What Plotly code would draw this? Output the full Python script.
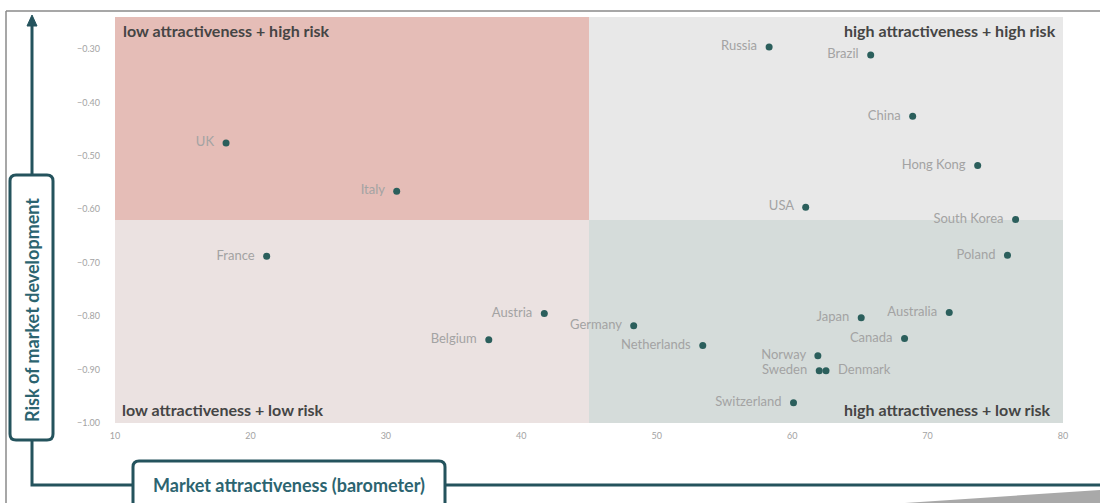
import plotly.graph_objects as go

# ---------------- data ----------------
countries = ["UK", "Italy", "France", "Austria", "Belgium", "Germany", "Netherlands",
             "Russia", "Brazil", "China", "Hong Kong", "USA", "South Korea", "Poland",
             "Japan", "Australia", "Canada", "Norway", "Sweden", "Denmark", "Switzerland"]
attractiveness = [18.2, 30.8, 21.2, 41.7, 37.6, 48.3, 53.4,
                  58.3, 65.8, 68.9, 73.7, 61.0, 76.5, 75.9,
                  65.1, 71.6, 68.3, 61.9, 62.0, 62.5, 60.1]
risk = [-0.476, -0.566, -0.688, -0.795, -0.844, -0.818, -0.855,
        -0.296, -0.311, -0.426, -0.518, -0.596, -0.619, -0.686,
        -0.803, -0.793, -0.842, -0.874, -0.902, -0.902, -0.962]
label_side = ["left"] * 19 + ["right", "left"]  # Denmark labelled to the right

x_ticks = [10, 20, 30, 40, 50, 60, 70, 80]
y_ticks = [-0.30, -0.40, -0.50, -0.60, -0.70, -0.80, -0.90, -1.00]
x_range = [10, 80]
y_range = [-1.0, -0.24]
x_split = 45
y_split = -0.62

quadrant_titles = ["low attractiveness + high risk", "high attractiveness + high risk",
                   "low attractiveness + low risk", "high attractiveness + low risk"]
x_title = "Market attractiveness (barometer)"
y_title = "Risk of market development"

# ---------------- layout geometry ----------------
W, H = 1100, 503
L, R, T, B = 115, 37, 17, 80
PW, PH = W - L - R, H - T - B


def px(x):
    return (x - L) / PW


def py(y):
    return (H - B - y) / PH


TEAL = "#24535d"
TEXT_TEAL = "#2c6470"

fig = go.Figure()

for side in ["left", "right"]:
    idx = [i for i, s in enumerate(label_side) if s == side]
    fig.add_trace(go.Scatter(
        x=[attractiveness[i] for i in idx],
        y=[risk[i] for i in idx],
        mode="markers+text",
        text=[(countries[i] + "  ") if side == "left" else ("  " + countries[i]) for i in idx],
        textposition="middle left" if side == "left" else "middle right",
        textfont=dict(family="Lato, sans-serif", size=13, color="#a3a3a3"),
        marker=dict(size=7, color="#2b5f5c"),
        hoverinfo="text",
        showlegend=False,
        cliponaxis=False,
    ))

shapes = []
# quadrants
quad_fill = [
    (x_range[0], x_split, y_split, y_range[1], "#e5bdb7"),
    (x_split, x_range[1], y_split, y_range[1], "#e8e8e8"),
    (x_range[0], x_split, y_range[0], y_split, "#ebe2e1"),
    (x_split, x_range[1], y_range[0], y_split, "#d5dcda"),
]
for x0, x1, y0, y1, c in quad_fill:
    shapes.append(dict(type="rect", xref="x", yref="y", x0=x0, x1=x1, y0=y0, y1=y1,
                       fillcolor=c, line=dict(width=0), layer="below"))

# outer screenshot frame
shapes.append(dict(type="line", xref="paper", yref="paper", x0=px(6), x1=px(1100), y0=py(11), y1=py(11),
                   line=dict(color="#8a8a8a", width=1.5)))
shapes.append(dict(type="line", xref="paper", yref="paper", x0=px(6), x1=px(6), y0=py(11), y1=py(503),
                   line=dict(color="#8a8a8a", width=1.5)))

# y arrow line
shapes.append(dict(type="line", xref="paper", yref="paper", x0=px(32), x1=px(32), y0=py(24), y1=py(175),
                   line=dict(color=TEAL, width=3)))
# arrow head
shapes.append(dict(type="path", xref="paper", yref="paper",
                   path=f"M {px(27)} {py(26)} L {px(32)} {py(15)} L {px(37)} {py(26)} Z",
                   fillcolor=TEAL, line=dict(color=TEAL, width=1)))
# connector below y box and horizontal line
shapes.append(dict(type="path", xref="paper", yref="paper",
                   path=f"M {px(32)} {py(440)} L {px(32)} {py(485)} L {px(133)} {py(485)}",
                   line=dict(color=TEAL, width=3)))
shapes.append(dict(type="line", xref="paper", yref="paper", x0=px(445), x1=px(1100), y0=py(485), y1=py(485),
                   line=dict(color=TEAL, width=3)))
# gray wedge bottom right
shapes.append(dict(type="path", xref="paper", yref="paper",
                   path=f"M {px(905)} {py(503)} L {px(1100)} {py(490)} L {px(1100)} {py(503)} Z",
                   fillcolor="#a9a9a9", line=dict(width=0)))


def rounded(x0, y0, x1, y1, r):
    return (f"M {px(x0 + r)} {py(y0)} L {px(x1 - r)} {py(y0)} Q {px(x1)} {py(y0)} {px(x1)} {py(y0 + r)} "
            f"L {px(x1)} {py(y1 - r)} Q {px(x1)} {py(y1)} {px(x1 - r)} {py(y1)} "
            f"L {px(x0 + r)} {py(y1)} Q {px(x0)} {py(y1)} {px(x0)} {py(y1 - r)} "
            f"L {px(x0)} {py(y0 + r)} Q {px(x0)} {py(y0)} {px(x0 + r)} {py(y0)} Z")


shapes.append(dict(type="path", xref="paper", yref="paper", path=rounded(10, 175, 53, 440, 6),
                   fillcolor="white", line=dict(color=TEAL, width=3)))
shapes.append(dict(type="path", xref="paper", yref="paper", path=rounded(133, 461, 445, 512, 6),
                   fillcolor="white", line=dict(color=TEAL, width=3)))

annotations = []
qt_font = dict(family="Lato, sans-serif", size=16, color="#454545")
annotations.append(dict(text="<b>" + quadrant_titles[0] + "</b>", xref="paper", yref="paper",
                        x=px(121), y=py(31), xanchor="left", yanchor="middle", showarrow=False, font=qt_font))
annotations.append(dict(text="<b>" + quadrant_titles[1] + "</b>", xref="paper", yref="paper",
                        x=px(1058), y=py(31), xanchor="right", yanchor="middle", showarrow=False, font=qt_font))
annotations.append(dict(text="<b>" + quadrant_titles[2] + "</b>", xref="paper", yref="paper",
                        x=px(120), y=py(409), xanchor="left", yanchor="middle", showarrow=False, font=qt_font))
annotations.append(dict(text="<b>" + quadrant_titles[3] + "</b>", xref="paper", yref="paper",
                        x=px(1053), y=py(409), xanchor="right", yanchor="middle", showarrow=False, font=qt_font))
annotations.append(dict(text="<b>" + y_title + "</b>", xref="paper", yref="paper",
                        x=px(32), y=py(310), textangle=-90, xanchor="center", yanchor="middle",
                        showarrow=False, font=dict(family="Lato, sans-serif", size=18, color=TEXT_TEAL)))
annotations.append(dict(text="<b>" + x_title + "</b>", xref="paper", yref="paper",
                        x=px(151), y=py(485), xanchor="left", yanchor="middle",
                        showarrow=False, font=dict(family="Lato, sans-serif", size=18, color=TEXT_TEAL)))

fig.update_layout(
    width=W, height=H,
    margin=dict(l=L, r=R, t=T, b=B),
    paper_bgcolor="white", plot_bgcolor="white",
    shapes=shapes, annotations=annotations,
    xaxis=dict(range=x_range, tickvals=x_ticks, showgrid=False, zeroline=False, showline=False,
               tickfont=dict(family="Lato, sans-serif", size=9, color="#a3a3a3"), ticklabelstandoff=6),
    yaxis=dict(range=y_range, tickvals=y_ticks, tickformat=".2f", showgrid=False, zeroline=False,
               showline=False, tickfont=dict(family="Lato, sans-serif", size=9, color="#a3a3a3"),
               ticklabelstandoff=14),
)

fig.write_html("out.html")
